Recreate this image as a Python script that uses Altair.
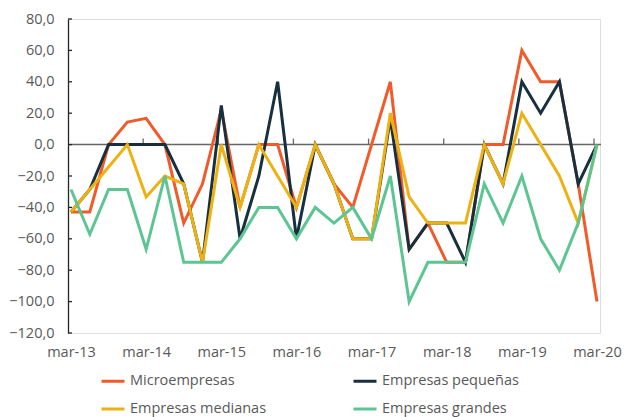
import altair as alt
import pandas as pd

series_names = ["Microempresas", "Empresas pequeñas", "Empresas medianas", "Empresas grandes"]
series_colors = ["#F15A29", "#17303F", "#EDB111", "#5DC593"]

year_labels = ["mar-13", "mar-14", "mar-15", "mar-16", "mar-17", "mar-18", "mar-19", "mar-20"]

micro = [-42.9, -42.9, 0, 14.3, 16.7, 0, -50, -25, 22.2, -40, 0, 0, -40, 0, -25, -40, 0, 40,
         -66.7, -50, -75, -75, 0, 0, 60, 40, 40, -25, -100]
pequenas = [-42.9, -28.6, 0, 0, 0, 0, -25, -75, 25, -60, -20, 40, -60, 0, -25, -60, -60, 16.7,
            -66.7, -50, -50, -75, 0, -25, 40, 20, 40, -25, 0]
medianas = [-42.9, -28.6, -14.3, 0, -33.3, -20, -25, -75, 0, -40, 0, -20, -40, 0, -25, -60, -60, 20,
            -33.3, -50, -50, -50, 0, -25, 20, 0, -20, -50, 0]
grandes = [-28.6, -57.1, -28.6, -28.6, -66.7, -20, -75, -75, -75, -60, -40, -40, -60, -40, -50, -40,
           -60, -20, -100, -75, -75, -75, -25, -50, -20, -60, -80, -50, 0]

y_ticks = [80, 60, 40, 20, 0, -20, -40, -60, -80, -100, -120]

rows = []
for name, vals in zip(series_names, [micro, pequenas, medianas, grandes]):
    for i, v in enumerate(vals):
        rows.append({"q": i, "valor": v, "serie": name})
df = pd.DataFrame(rows)

W, H = 532, 314
FONT = "Open Sans"
GRAY = "#595959"

x_scale = alt.Scale(domain=[-0.16, 28.16], nice=False, zero=False)
y_scale = alt.Scale(domain=[-120, 80], nice=False)

label_expr = "[" + ",".join("'" + s + "'" for s in year_labels) + "][round(datum.value/4)]"

color = alt.Color(
    "serie:N",
    scale=alt.Scale(domain=series_names, range=series_colors),
    legend=alt.Legend(
        title=None, orient="none", legendX=32, legendY=349, columns=2, direction="horizontal",
        symbolType="stroke", symbolStrokeWidth=3, symbolSize=529,
        labelFont=FONT, labelFontSize=14.5, labelColor=GRAY, labelOffset=4,
        columnPadding=80, rowPadding=8, labelLimit=300,
    ),
)

x_axis = alt.Axis(values=[0, 4, 8, 12, 16, 20, 24, 28], labelExpr=label_expr,
                  domain=False, ticks=False, grid=False, title=None,
                  labelFont=FONT, labelFontSize=14.5, labelColor=GRAY,
                  labelPadding=12, labelOverlap=False)
y_axis = alt.Axis(values=y_ticks, format=".1f", labelExpr="replace(datum.label, '.', ',')",
                  domain=True, domainColor="#262626", domainWidth=1.3,
                  ticks=False, grid=False, title=None, labelOverlap=False,
                  labelFont=FONT, labelFontSize=14.5, labelColor=GRAY,
                  labelPadding=14)

base = alt.Chart(df)

lines = []
for name in series_names:
    lines.append(
        base.transform_filter(alt.datum.serie == name).mark_line(strokeWidth=3).encode(
            x=alt.X("q:Q", scale=x_scale, axis=x_axis),
            y=alt.Y("valor:Q", scale=y_scale, axis=y_axis),
            color=color,
        )
    )

ytick_df = pd.DataFrame({"v": y_ticks})
yticks = alt.Chart(ytick_df).mark_rule(color="#262626", strokeWidth=1.3).encode(
    y=alt.Y("v:Q", scale=y_scale, axis=y_axis), x=alt.value(0), x2=alt.value(4)
)

zero_df = pd.DataFrame({"v": [0]})
zero_line = alt.Chart(zero_df).mark_rule(color="#666666", strokeWidth=1.5).encode(
    y=alt.Y("v:Q", scale=y_scale, axis=y_axis), x=alt.value(0), x2=alt.value(W + 1)
)

xtick_df = pd.DataFrame({"t": [3.84, 7.84, 11.84, 15.84, 19.84, 23.84, 27.84]})
zero_px = H * 80 / 200
xticks = alt.Chart(xtick_df).mark_rule(color="#666666", strokeWidth=1.3).encode(
    x=alt.X("t:Q", scale=x_scale, axis=x_axis), y=alt.value(zero_px), y2=alt.value(zero_px - 6)
)

chart = alt.layer(zero_line, xticks, yticks, *lines).properties(
    width=W, height=H,
    autosize=alt.AutoSizeParams(type="none"),
    padding={"left": 60, "top": 11, "right": 30, "bottom": 84},
).configure_view(stroke=None).configure_axis(labelOverlap=False).configure(background="white")

chart.save("out.html", embed_options={"renderer": "svg", "actions": False})
